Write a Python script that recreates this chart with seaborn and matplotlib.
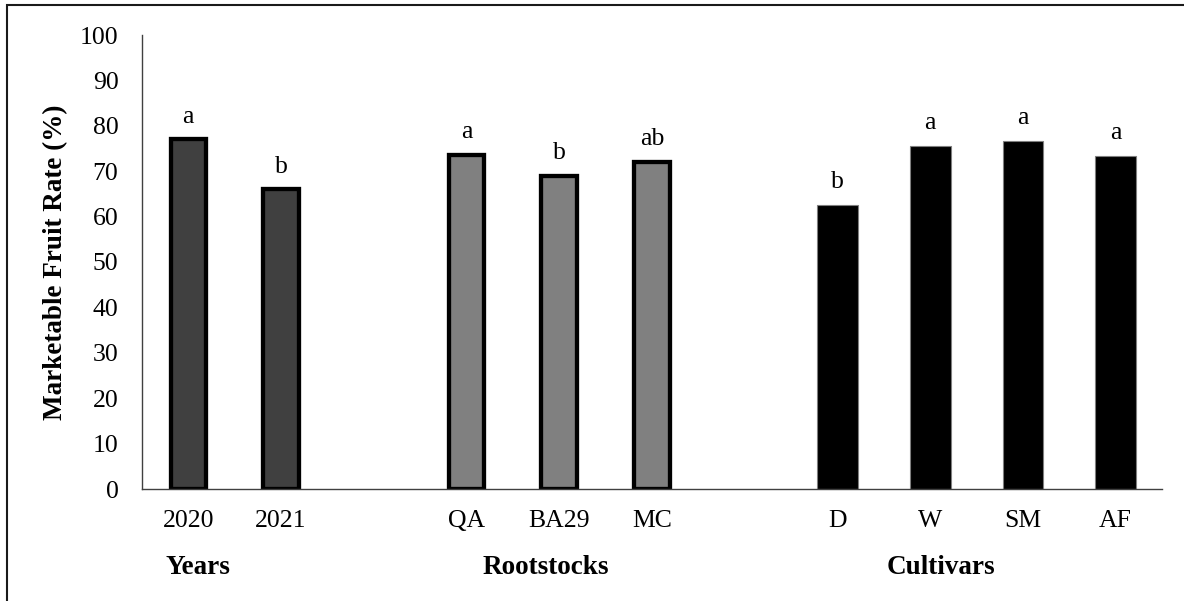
import matplotlib
matplotlib.use("Agg")
import matplotlib.pyplot as plt
import matplotlib.patches as mpatches
import seaborn as sns
import pandas as pd

# Category slots along the x axis (blank slots separate the three factor groups)
slots = ["2020", "2021", " ", "QA", "BA29", "MC", "  ", "D", "W", "SM", "AF"]

years = ["2020", "2021"]
year_values = [77.0, 66.0]
year_letters = ["a", "b"]

rootstocks = ["QA", "BA29", "MC"]
rootstock_values = [73.6, 69.0, 72.0]
rootstock_letters = ["a", "b", "ab"]

cultivars = ["D", "W", "SM", "AF"]
cultivar_values = [62.6, 75.5, 76.6, 73.4]
cultivar_letters = ["b", "a", "a", "a"]

group_names = ["Years", "Rootstocks", "Cultivars"]
group_label_x = [0.10, 3.86, 8.12]

yticks = list(range(0, 101, 10))

sns.set_style("white")
plt.rcParams["font.family"] = ["Liberation Serif", "DejaVu Serif"]
plt.rcParams["text.color"] = "black"

fig = plt.figure(figsize=(11.84, 6.01), dpi=100)
ax = fig.add_axes([142 / 1184, 112 / 601, 1020 / 1184, 454 / 601])

groups = [
    (years, year_values, year_letters, "#404040", "black", 3.1, 0.385),
    (rootstocks, rootstock_values, rootstock_letters, "#808080", "black", 3.1, 0.385),
    (cultivars, cultivar_values, cultivar_letters, "black", "#7f7f7f", 0.8, 0.44),
]

for cats, vals, letters, fill, edge, lw, w in groups:
    df = pd.DataFrame({"cat": cats, "val": vals})
    sns.barplot(data=df, x="cat", y="val", order=slots, color=fill,
                edgecolor=edge, linewidth=lw, width=w, saturation=1,
                errorbar=None, ax=ax)
    for c, v, l in zip(cats, vals, letters):
        ax.text(slots.index(c), v + 3.7, l, ha="center", va="baseline",
                fontsize=18.5, color="black")

ax.set_xlim(-0.5, len(slots) - 0.5)
ax.set_ylim(0, 100)
ax.set_yticks(yticks)
ax.set_xlabel("")
ax.set_ylabel("Marketable Fruit Rate (%)", fontsize=19.5, fontweight="bold",
              labelpad=8.5, color="black")
ax.tick_params(axis="both", length=0, labelsize=18.5, colors="black")
ax.tick_params(axis="y", pad=17)
ax.tick_params(axis="x", pad=15)

for side in ["top", "right"]:
    ax.spines[side].set_visible(False)
for side in ["left", "bottom"]:
    ax.spines[side].set_color("#404040")
    ax.spines[side].set_linewidth(1.0)

for x, name in zip(group_label_x, group_names):
    ax.text(x, -17.4, name, ha="center", va="center", fontsize=19.5,
            fontweight="bold", color="black", clip_on=False)

# Outer frame around the whole chart area
frame = mpatches.Rectangle((7 / 1184, -0.05), 1.1, 0.05 + 596 / 601,
                           transform=fig.transFigure, fill=False,
                           edgecolor="#1a1a1a", linewidth=1.5, clip_on=False)
fig.patches.append(frame)

fig.savefig("out.png", dpi=100, facecolor="white")
